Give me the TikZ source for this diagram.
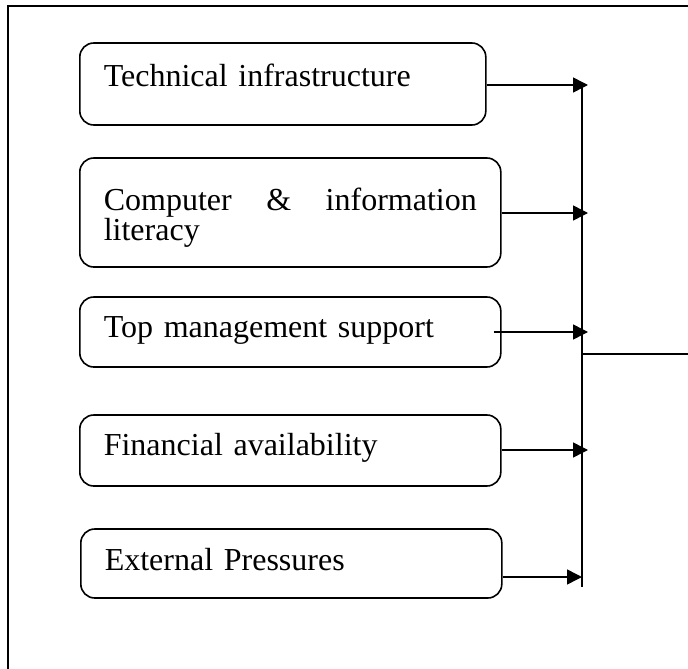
\documentclass[tikz,border=0pt]{standalone}
\usepackage{fontspec}
\setmainfont{Liberation Serif}
\usetikzlibrary{positioning}
\usetikzlibrary{arrows.meta}
\newcommand{\nohyph}{\hyphenpenalty=10000 \tolerance=10000\relax}
\tikzset{
    factor/.style = {rectangle, rounded corners=14pt, draw=black, line width=1.6pt, inner xsep=24pt, inner ysep=0pt, anchor=base west, font={\fontsize{32}{28}\selectfont\nohyph}},
    edgen/.style = {-{Triangle[length=15pt,width=15pt]}, line width=1.5pt},
    busline/.style = {line width=1.5pt},
    frame/.style = {line width=1.6pt}
}

\begin{document}
\begin{tikzpicture}[x=1pt,y=-1pt]
  \path[use as bounding box, clip] (0,0) rectangle (688,669);
  \draw[frame] (8,6) rectangle (700,690);

  \node[factor, text width=358pt, align=left, text height=44pt, text depth=38pt] (tech) at (79,87) {Technical infrastructure};
  \node[factor, text width=373pt, align=justify, text height=52pt, text depth=57pt] (lit) at (79,210) {Computer \& information literacy};
  \node[factor, text width=373pt, align=left, text height=40pt, text depth=30pt] (top) at (79,337) {Top management support};
  \node[factor, text width=373pt, align=left, text height=40pt, text depth=31pt] (fin) at (79,455) {Financial availability};
  \node[factor, text width=373pt, align=left, text height=41pt, text depth=28pt] (ext) at (80,570) {External Pressures};

  \coordinate (bustop) at (582,85);
  \coordinate (busbot) at (582,587);
  \coordinate (busout) at (582,354);
  \coordinate (goal) at (700,354);
  \coordinate (techin) at (588,85);
  \coordinate (litin) at (588,213);
  \coordinate (topin) at (588,332);
  \coordinate (finin) at (588,450);
  \coordinate (extin) at (582,577);

  \draw[busline] (bustop) -- (busbot);
  \draw[busline] (busout) -- (goal);

  \draw[edgen] (tech.east |- techin) -- (techin);
  \draw[edgen] (lit.east |- litin) -- (litin);
  \draw[edgen] ([xshift=-8pt]top.east |- topin) -- (topin);
  \draw[edgen] (fin.east |- finin) -- (finin);
  \draw[edgen] (ext.east |- extin) -- (extin);
\end{tikzpicture}
\end{document}
